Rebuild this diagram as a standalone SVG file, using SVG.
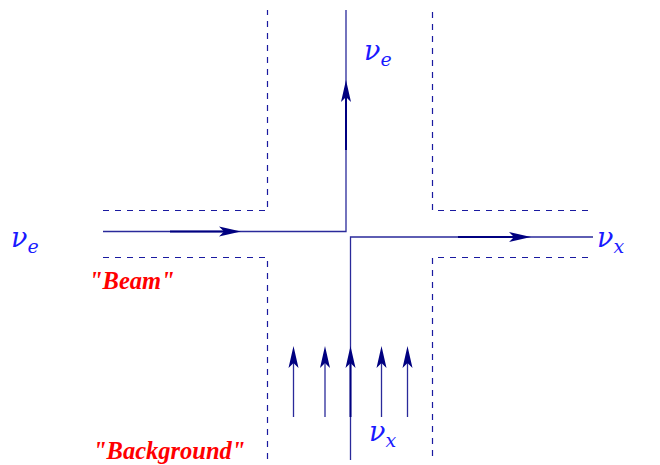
<svg xmlns="http://www.w3.org/2000/svg" width="660" height="465" viewBox="0 0 660 465">
<defs>
<style>
.dash{fill:none;stroke:#1a1aa0;stroke-width:1.2;stroke-dasharray:6 6}
.line{fill:none;stroke:#2a2a9a;stroke-width:1.3}
.dark{fill:none;stroke:#000080;stroke-width:2}
.head{fill:#000080;stroke:none}
.nu{font-family:"DejaVu Serif",serif;font-style:italic;fill:#1a1aff;font-size:27px}
.sub{font-family:"DejaVu Serif",serif;font-style:italic;fill:#1a1aff;font-size:19px}
.lab{font-family:"Liberation Serif",serif;font-style:italic;font-weight:bold;fill:#ff0000;font-size:24.5px}
</style>
<path id="up" class="head" d="M0,0 L5,22 L0,17 L-5,22 Z"/>
<path id="right" class="head" d="M0,0 L-22,-5 L-17,0 L-22,5 Z"/>
</defs>
<g id="channels">
<path class="dash" d="M103,210.5 H267.5 V10"/>
<path class="dash" d="M103,257.5 H267.5 V460"/>
<path class="dash" d="M588,210.5 H432.5 V10"/>
<path class="dash" d="M588,257.5 H432.5 V460"/>
</g>
<g id="connectors">
<path class="line" d="M103,231.5 H346 V10"/>
<path class="dark" d="M170,231.5 H225"/>
<path class="dark" d="M346,95 V150"/>
<use href="#right" x="241" y="231.5"/>
<use href="#up" x="346" y="80"/>
<path class="line" d="M350.5,460 V237 H593"/>
<path class="dark" d="M458,237 H515"/>
<use href="#right" x="531" y="237"/>
<g id="background-arrows">
<path class="line" d="M293.5,417 V360"/>
<path class="line" d="M325,417 V360"/>
<path class="dark" d="M350.5,417 V360"/>
<path class="line" d="M381.5,417 V360"/>
<path class="line" d="M407.5,417 V360"/>
<use href="#up" x="293.5" y="346"/>
<use href="#up" x="325" y="346"/>
<use href="#up" x="350.5" y="346"/>
<use href="#up" x="381.5" y="346"/>
<use href="#up" x="407.5" y="346"/>
</g>
</g>
<g id="labels">
<text class="nu" x="11" y="247">ν<tspan class="sub" dy="6">e</tspan></text>
<text class="nu" x="364" y="60">ν<tspan class="sub" dy="6">e</tspan></text>
<text class="nu" x="597" y="247">ν<tspan class="sub" dy="6">x</tspan></text>
<text class="nu" x="369" y="441">ν<tspan class="sub" dy="6">x</tspan></text>
<text class="lab" x="89" y="289">"Beam"</text>
<text class="lab" x="93" y="459">"Background"</text>
</g>
</svg>
